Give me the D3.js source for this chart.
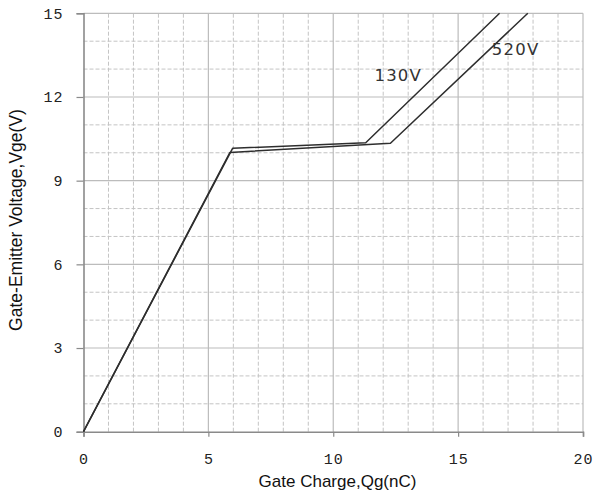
<!DOCTYPE html>
<html>
<head>
<meta charset="utf-8">
<script src="https://cdn.jsdelivr.net/npm/d3@7"></script>
<style>
  html, body { margin: 0; padding: 0; background: #fff; }
  svg { display: block; }
</style>
</head>
<body>
<svg id="chart" width="595" height="498"></svg>
<script>
// Gate charge curves: Qg (nC) vs Vge (V) at two collector voltages
const qg130 = [0, 5.97, 11.3, 16.66];
const vge130 = [0, 10.16, 10.36, 15];
const qg520 = [0, 5.86, 12.29, 17.79];
const vge520 = [0, 10.01, 10.34, 15];
const seriesNames = ["130V", "520V"];
const xTicks = [0, 5, 10, 15, 20];
const yTicks = [0, 3, 6, 9, 12, 15];

const W = 595, H = 498;
const margin = { left: 83.5, top: 13.3, right: 12, bottom: 66.3 };
const svg = d3.select("#chart");

const x = d3.scaleLinear().domain([0, 20]).range([margin.left, W - margin.right]);
const y = d3.scaleLinear().domain([0, 15]).range([H - margin.bottom, margin.top]);

const grid = svg.append("g");
// minor dashed grid every 1 unit
d3.range(1, 20).filter(v => v % 5 !== 0).forEach(v => {
  grid.append("line")
    .attr("x1", x(v)).attr("x2", x(v)).attr("y1", y(0)).attr("y2", y(15))
    .attr("stroke", "#c4c4c4").attr("stroke-width", 1).attr("stroke-dasharray", "4,2");
});
d3.range(1, 15).filter(v => v % 3 !== 0).forEach(v => {
  grid.append("line")
    .attr("x1", x(0)).attr("x2", x(20)).attr("y1", y(v)).attr("y2", y(v))
    .attr("stroke", "#c4c4c4").attr("stroke-width", 1).attr("stroke-dasharray", "4,2");
});
// major solid grid
xTicks.slice(1).forEach(v => {
  grid.append("line")
    .attr("x1", x(v)).attr("x2", x(v)).attr("y1", y(0)).attr("y2", y(15))
    .attr("stroke", "#bcbcbc").attr("stroke-width", 1.2);
});
yTicks.slice(1).forEach(v => {
  grid.append("line")
    .attr("x1", x(0)).attr("x2", x(20)).attr("y1", y(v)).attr("y2", y(v))
    .attr("stroke", "#bcbcbc").attr("stroke-width", 1.2);
});

// axes
const tickFont = "'Liberation Mono', 'DejaVu Sans Mono', monospace";
const xAxis = svg.append("g")
  .attr("transform", `translate(0,${y(0)})`)
  .call(d3.axisBottom(x).tickValues(xTicks).tickSize(5).tickPadding(17).tickFormat(d3.format("d")));
const yAxis = svg.append("g")
  .attr("transform", `translate(${x(0)},0)`)
  .call(d3.axisLeft(y).tickValues(yTicks).tickSize(7).tickPadding(13).tickFormat(d3.format("d")));
[xAxis, yAxis].forEach(a => {
  a.select(".domain").attr("stroke", "#8a8a8a").attr("stroke-width", 1.6);
  a.selectAll(".tick line").attr("stroke", "#8a8a8a").attr("stroke-width", 1.2);
  a.selectAll(".tick text")
    .attr("font-family", tickFont).attr("font-size", 15)
    .attr("letter-spacing", 1).attr("fill", "#222");
});

// curves
const line = d3.line().x(d => x(d[0])).y(d => y(d[1]));
const curves = [d3.zip(qg130, vge130), d3.zip(qg520, vge520)];
svg.append("g").selectAll("path").data(curves).join("path")
  .attr("d", line)
  .attr("fill", "none")
  .attr("stroke", "#2e2e2e")
  .attr("stroke-width", 1.5)
  .attr("stroke-linejoin", "round");

// curve labels
const labelFont = "'DejaVu Sans', Verdana, sans-serif";
svg.append("text").text(seriesNames[0])
  .attr("x", x(11.65)).attr("y", y(12.56))
  .attr("font-family", labelFont).attr("font-size", 16.5).attr("fill", "#333").attr("letter-spacing", 1.2);
svg.append("text").text(seriesNames[1])
  .attr("x", x(16.35)).attr("y", y(13.52))
  .attr("font-family", labelFont).attr("font-size", 16.5).attr("fill", "#333").attr("letter-spacing", 1.2);

// axis titles
const titleFont = "'Liberation Sans', Arial, sans-serif";
svg.append("text").text("Gate Charge,Qg(nC)")
  .attr("x", 337.5).attr("y", 487)
  .attr("text-anchor", "middle")
  .attr("font-family", titleFont).attr("font-size", 17).attr("fill", "#111");
svg.append("text").text("Gate-Emitter Voltage,Vge(V)")
  .attr("transform", "translate(22,220) rotate(-90)")
  .attr("text-anchor", "middle")
  .attr("font-family", titleFont).attr("font-size", 17.5).attr("fill", "#111");
</script>
</body>
</html>
